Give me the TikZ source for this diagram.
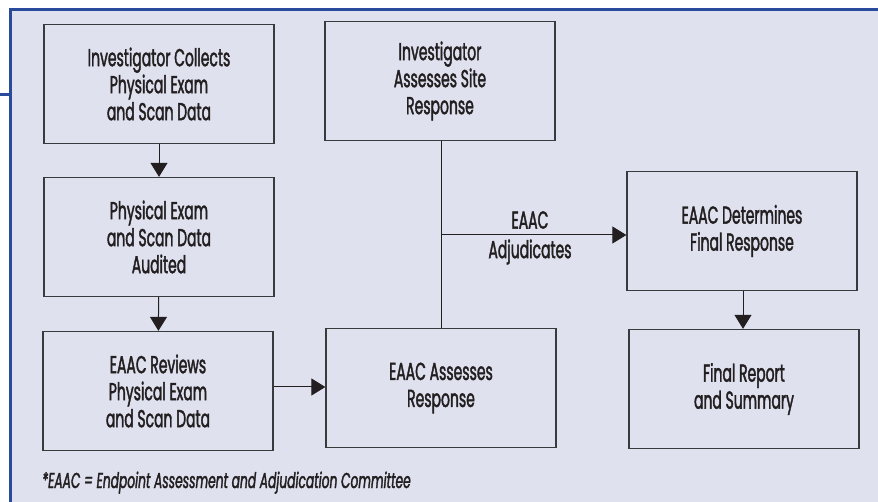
\documentclass[tikz,border=0pt]{standalone}
\usepackage{fontspec}
\setmainfont{Poppins}[FakeStretch=0.57, FakeBold=1.6]
\usetikzlibrary{arrows.meta}
\definecolor{bg}{HTML}{DFE1EF}
\definecolor{frame}{HTML}{2A4B9B}
\definecolor{ink}{HTML}{231F20}
\definecolor{edge}{HTML}{3A3A3C}
\begin{document}
\begin{tikzpicture}[x=1pt,y=-1pt,
  box/.style={draw=edge, line width=1.3pt, minimum width=230pt, minimum height=119pt,
    inner sep=0pt, align=center, text=ink, font=\fontsize{24.5}{27}\selectfont},
  conn/.style={draw=ink, line width=1pt},
  arr/.style={conn, -{Triangle[length=14pt,width=17pt]}},
  lbl/.style={text=ink, font=\fontsize{24.5}{27}\selectfont, inner sep=0pt}]
\useasboundingbox (0,0) rectangle (878,502);
\fill[bg] (10,10) rectangle (878,502);
\draw[frame, line width=3pt] (878,10) -- (10,10) -- (10,502);
\draw[frame, line width=3pt] (0,95) -- (10,95);

\node[box] (b1) at (159,84) {Investigator Collects\\Physical Exam\\and Scan Data};
\node[box] (b2) at (159,237) {Physical Exam\\and Scan Data\\Audited};
\node[box] (b3) at (158,391) {EAAC Reviews\\Physical Exam\\and Scan Data};
\node[box] (b4) at (440,81) {Investigator\\Assesses Site\\Response};
\node[box] (b5) at (441,388) {EAAC Assesses\\Response};
\node[box] (b6) at (742,231) {EAAC Determines\\Final Response};
\node[box] (b7) at (744,389) {Final Report\\and Summary};

\draw[arr] (b1) -- (b2);
\draw[arr] (b2) -- (b3);
\draw[arr] (b3.east |- 0,387) -- (b5.west |- 0,387);
\draw[arr] (b6.south -| 743,0) -- (b7.north -| 743,0);
\coordinate (j) at (441,235);
\draw[conn] (b4.south -| j) -- (b5.north -| j);
\draw[arr] (j) -- (b6.west |- j);
\node[lbl] (l1) at (530,220) {EAAC};
\node[lbl] (l2) at (530,252) {Adjudicates};
\node[anchor=base west, text=ink, inner sep=0pt, font=\fontsize{21.5}{24}\selectfont\itshape] (fn) at (42,488) {*EAAC = Endpoint Assessment and Adjudication Committee};
\end{tikzpicture}
\end{document}
